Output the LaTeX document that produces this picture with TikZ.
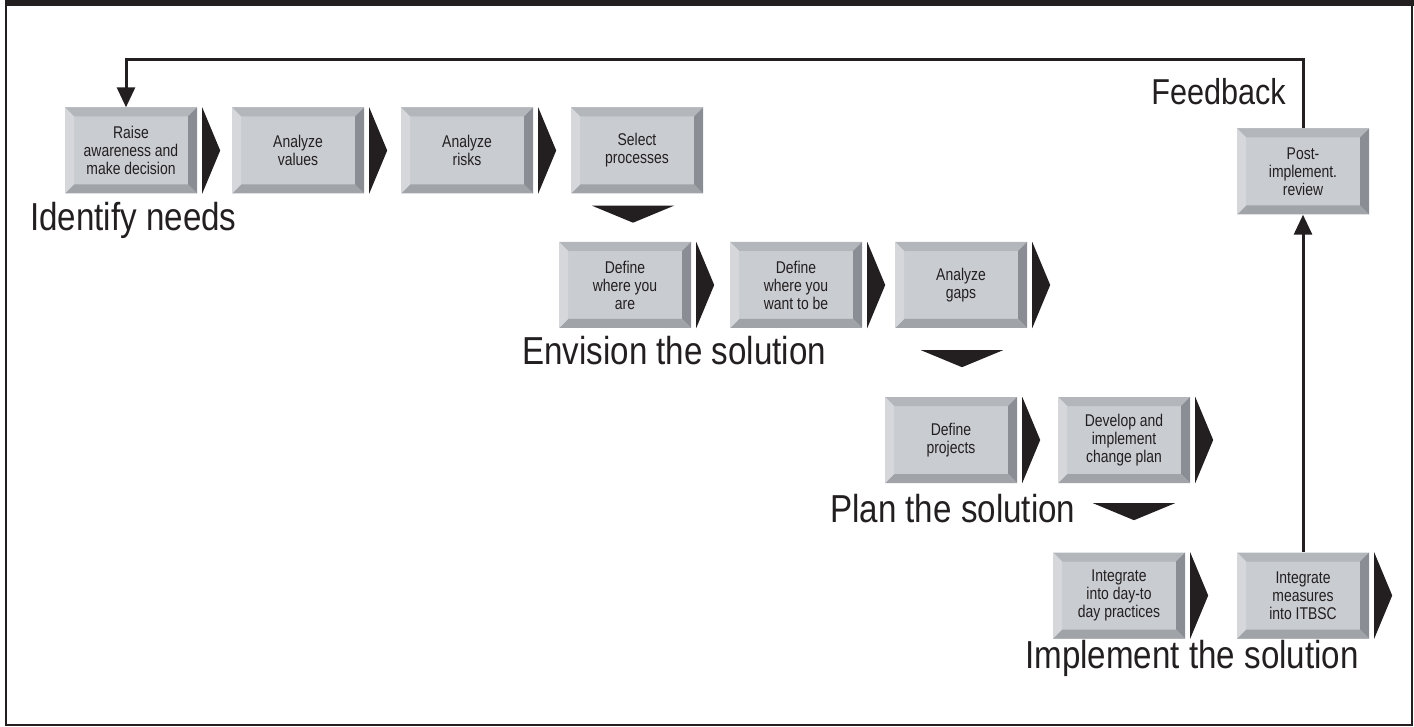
\documentclass[tikz,border=0pt]{standalone}
\usepackage{fontspec}
\setmainfont{Liberation Sans}
\newfontfamily\condfont[FakeStretch=0.85]{Liberation Sans}
\newfontfamily\smallcondfont[FakeStretch=0.82]{Liberation Sans}
\usetikzlibrary{arrows.meta}
\definecolor{ink}{HTML}{231F20}
\definecolor{face}{RGB}{201,204,209}
\definecolor{bvtopc}{RGB}{179,182,187}
\definecolor{bvleftc}{RGB}{213,215,219}
\definecolor{bvrightc}{RGB}{138,142,148}
\definecolor{bvbotc}{RGB}{160,163,168}
\newcommand\boxfont{\smallcondfont\fontsize{17}{18}\selectfont}
\newcommand\bigfont{\condfont\fontsize{39}{41}\selectfont}
\newcommand\rtri[1]{\fill[ink] ([xshift=5pt]#1.north east) -- ([xshift=5pt]#1.south east) -- ([xshift=23pt]#1.east) -- cycle;}
\newcommand\dtri[3]{\fill[ink] ([xshift=#2-41pt,yshift=-#3]#1.south) -- ([xshift=#2+41pt,yshift=-#3]#1.south) -- ([xshift=#2,yshift=-#3-17pt]#1.south) -- cycle;}
\tikzset{
  bevbox/.style={rectangle, minimum width=132pt, minimum height=86pt, inner sep=0pt,
    fill=face, text=ink, font=\boxfont, align=center,
    path picture={
      \path (path picture bounding box.north west) coordinate (pnw)
            (path picture bounding box.north east) coordinate (pne)
            (path picture bounding box.south east) coordinate (pse)
            (path picture bounding box.south west) coordinate (psw);
      \fill[bvtopc] (pnw) -- (pne) -- ([xshift=-9pt,yshift=-9pt]pne) -- ([xshift=9pt,yshift=-9pt]pnw) -- cycle;
      \fill[bvrightc] (pne) -- (pse) -- ([xshift=-9pt,yshift=9pt]pse) -- ([xshift=-9pt,yshift=-9pt]pne) -- cycle;
      \fill[bvbotc] (pse) -- (psw) -- ([xshift=9pt,yshift=9pt]psw) -- ([xshift=-9pt,yshift=9pt]pse) -- cycle;
      \fill[bvleftc] (psw) -- (pnw) -- ([xshift=9pt,yshift=-9pt]pnw) -- ([xshift=9pt,yshift=9pt]psw) -- cycle;
    }},
  biglabel/.style={anchor=base west, inner sep=0pt, text=ink, font=\bigfont},
  fb/.style={draw=ink, line width=3pt, -{Triangle[width=18pt,length=20pt]}}
}
\begin{document}
\begin{tikzpicture}[x=1pt,y=-1pt]
\useasboundingbox (0,0) rectangle (1414,727);
% frame
\fill[ink] (5,0) rectangle (1414,6);
\draw[ink, line width=2pt] (6,5) -- (6,725) -- (1412,725) -- (1412,5);
% row 1
\node[bevbox] (b1) at (131,150.5) {Raise\\awareness and\\make decision};
\node[bevbox] (b2) at (298,150.5) {Analyze\\values};
\node[bevbox] (b3) at (467,150.5) {Analyze\\risks};
\node[bevbox] (b4) at (637,150.5) {Select\\processes};
\rtri{b1}\rtri{b2}\rtri{b3}
\dtri{b4}{-4pt}{12pt}
\node[biglabel] (l1) at (30,231) {Identify needs};
% row 2
\node[bevbox] (b5) at (625,285) {Define\\where you\\are};
\node[bevbox] (b6) at (796,285) {Define\\where you\\want to be};
\node[bevbox] (b7) at (961,285) {Analyze\\gaps};
\rtri{b5}\rtri{b6}\rtri{b7}
\dtri{b7}{1pt}{22pt}
\node[biglabel] (l2) at (522,365) {Envision the solution};
% row 3
\node[bevbox] (b8) at (951,440) {Define\\projects};
\node[bevbox] (b9) at (1124,440) {Develop and\\implement\\change plan};
\rtri{b8}\rtri{b9}
\dtri{b9}{10pt}{20pt}
\node[biglabel] (l3) at (830,522) {Plan the solution};
% row 4
\node[bevbox] (b10) at (1119,595.5) {Integrate\\into day-to\\day practices};
\node[bevbox] (b11) at (1303,595.5) {Integrate\\measures\\into ITBSC};
\rtri{b10}\rtri{b11}
\node[biglabel] (l4) at (1025,668) {Implement the solution};
% post review
\node[bevbox] (post) at (1303,171.5) {Post-\\implement.\\review};
\node[anchor=base east, inner sep=0pt, text=ink, font=\condfont\fontsize{36}{38}\selectfont] (fbl) at (1286,105) {Feedback};
% connectors
\coordinate (fbc) at (126,60);
\draw[fb] (b11.north) -- (post.south);
\draw[fb] (post.north) |- (fbc) -- (fbc |- b1.north);
\end{tikzpicture}
\end{document}
